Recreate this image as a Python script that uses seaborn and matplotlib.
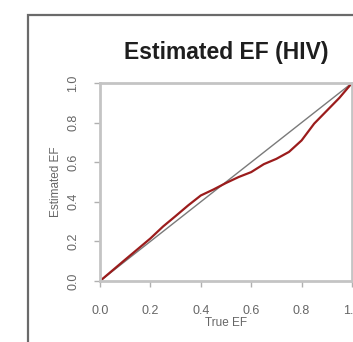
import matplotlib
matplotlib.use("Agg")
import matplotlib.pyplot as plt
import seaborn as sns
import pandas as pd
from matplotlib.patches import Rectangle

true_ef = [0.0, 0.1, 0.2, 0.25, 0.3, 0.35, 0.4, 0.45, 0.5, 0.55, 0.6, 0.65, 0.7, 0.75, 0.8, 0.85, 0.9, 0.95, 1.0]
est_ef = [0.0, 0.108, 0.215, 0.275, 0.328, 0.382, 0.432, 0.462, 0.495, 0.525, 0.55, 0.59, 0.617, 0.652, 0.71, 0.795, 0.86, 0.925, 1.0]
diag = [0.0, 1.0]
ticks = [0.0, 0.2, 0.4, 0.6, 0.8, 1.0]
tick_labels = ["0.0", "0.2", "0.4", "0.6", "0.8", "1.0"]

sns.set_style("white")
plt.rcParams['font.family'] = ['Liberation Sans', 'DejaVu Sans']

fig = plt.figure(figsize=(3.53, 3.42), dpi=100)
fig.patch.set_facecolor("white")
# outer panel frame (cropped)
fig.patches.append(Rectangle((28/353, -0.2), 1.0, (342-15)/342 + 0.2, transform=fig.transFigure,
                             fill=False, edgecolor="#6a6a6a", linewidth=1.6, zorder=0))

ax = fig.add_axes([100/353, (342-281)/342, 252/353, 198/342])
df_d = pd.DataFrame({"x": diag, "y": diag})
df = pd.DataFrame({"x": true_ef, "y": est_ef})
sns.lineplot(data=df_d, x="x", y="y", ax=ax, color="#7a7a7a", linewidth=1.0)
sns.lineplot(data=df, x="x", y="y", ax=ax, color="#9b1c1c", linewidth=1.6)

ax.set_xlim(0, 1)
ax.set_ylim(0, 1)
ax.set_xticks(ticks)
ax.set_xticklabels(tick_labels)
ax.set_yticks(ticks)
ax.set_yticklabels(tick_labels, rotation=90, va="center")
for s in ax.spines.values():
    s.set_color("#c4c4c4")
    s.set_linewidth(2.0)
ax.tick_params(axis="both", which="both", length=4, width=1.0, color="#b0b0b0",
               labelsize=9, labelcolor="#666666", direction="out", bottom=True, left=True)
ax.tick_params(axis="x", pad=13.5)
ax.tick_params(axis="y", pad=11)
ax.set_xlabel("True EF", fontsize=8.5, color="#666666", labelpad=0)
ax.set_ylabel("Estimated EF", fontsize=8.5, color="#666666", labelpad=4)
ax.set_title("Estimated EF (HIV)", fontsize=16.5, fontweight="bold", color="#1e1e1e", pad=17)

fig.savefig("out.png", dpi=100)
